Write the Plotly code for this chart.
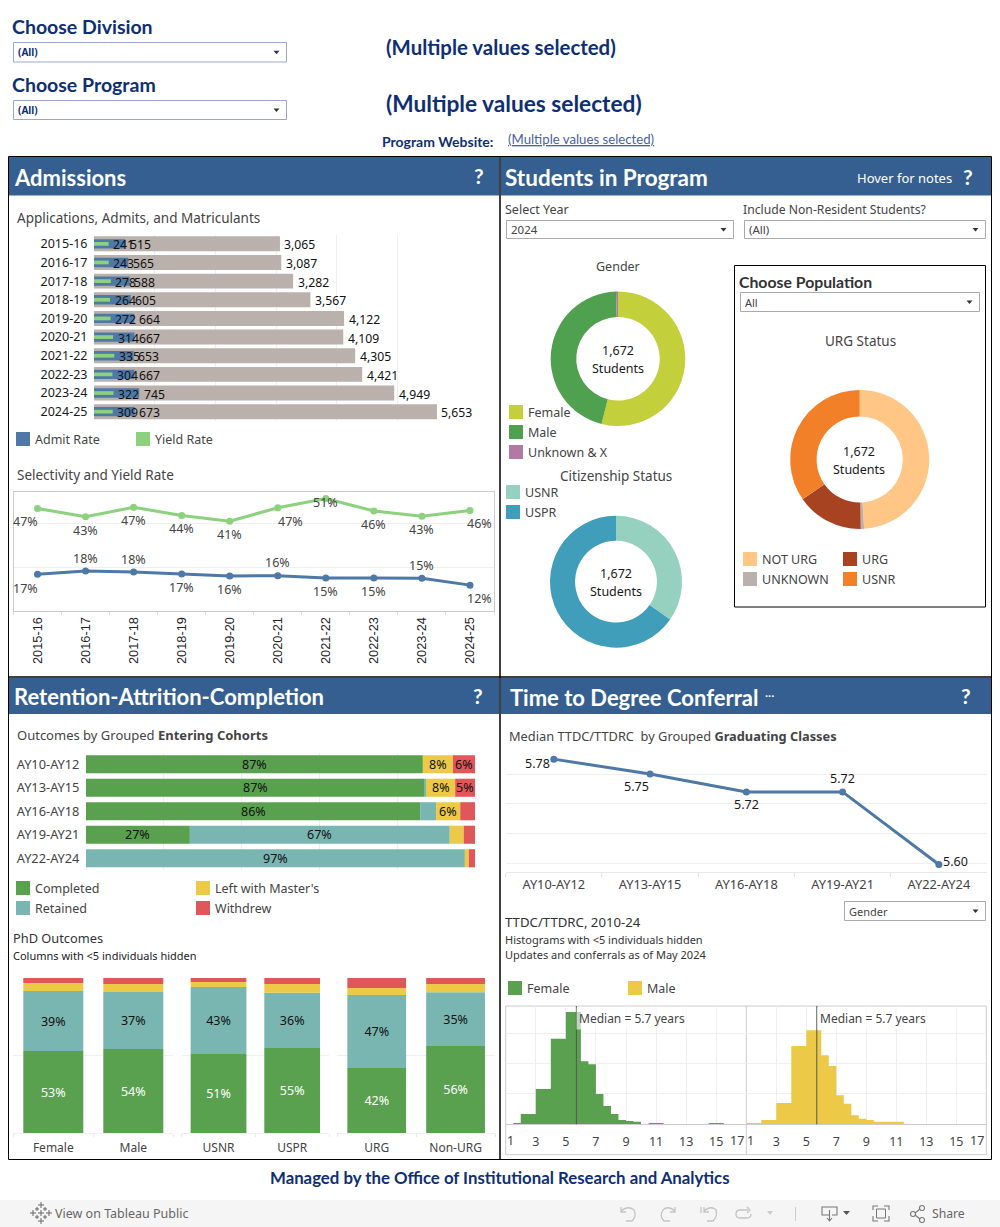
import numpy as np
import plotly.graph_objects as go

# ---------- data ----------
YEARS = ["2015-16", "2016-17", "2017-18", "2018-19", "2019-20", "2020-21", "2021-22", "2022-23", "2023-24", "2024-25"]
APPLICATIONS = [3065, 3087, 3282, 3567, 4122, 4109, 4305, 4421, 4949, 5653]
ADMITS = [515, 565, 588, 605, 664, 667, 653, 667, 745, 673]
MATRICULANTS = [241, 243, 278, 264, 272, 314, 335, 304, 322, 309]
YIELD_RATE = [46.8, 43.0, 47.3, 43.6, 41.0, 47.1, 51.3, 45.6, 43.2, 45.9]
ADMIT_RATE = [16.8, 18.3, 17.9, 17.0, 16.1, 16.2, 15.2, 15.1, 15.05, 11.9]

COHORTS = ["AY10-AY12", "AY13-AY15", "AY16-AY18", "AY19-AY21", "AY22-AY24"]
COMPLETED = [86.6, 86.9, 85.9, 26.7, 0.0]
RETAINED = [0.0, 0.5, 4.1, 66.8, 97.4]
LEFT_MASTERS = [7.7, 7.5, 6.2, 3.6, 1.0]
WITHDREW = [5.7, 5.1, 3.8, 2.9, 1.6]
COMPLETED_TXT = ["87%", "87%", "86%", "27%", ""]
RETAINED_TXT = ["", "", "", "67%", "97%"]
LEFT_TXT = ["8%", "8%", "6%", "", ""]
WITHDREW_TXT = ["6%", "5%", "", "", ""]

PHD_GROUPS = [["Female", "Male"], ["USNR", "USPR"], ["URG", "Non-URG"]]
PHD_COMPLETED = [[53.0, 54.3], [51.1, 54.9], [42.1, 56.2]]
PHD_RETAINED = [[38.6, 36.7], [43.1, 35.6], [47.0, 34.6]]
PHD_LEFT = [[5.2, 5.2], [3.2, 5.6], [4.5, 5.4]]
PHD_WITHDREW = [[3.2, 3.8], [2.6, 3.9], [6.4, 3.8]]

GENDER_LABELS = ["Female", "Male", "Unknown & X"]
GENDER_COUNTS = [902, 762, 8]
CITIZEN_LABELS = ["USNR", "USPR"]
CITIZEN_COUNTS = [580, 1092]
URG_LABELS = ["NOT URG", "UNKNOWN", "URG", "USNR"]
URG_COUNTS = [819, 13, 260, 580]

GRAD_CLASSES = COHORTS
MEDIAN_TTD = [5.775, 5.75, 5.72, 5.72, 5.598]
MEDIAN_TXT = ["5.78", "5.75", "5.72", "5.72", "5.60"]

BINS_F = [1.5, 2, 2.5, 3, 3.5, 4, 4.5, 5, 5.5, 6, 6.5, 7, 7.5, 8, 8.5, 9, 9.5, 10, 10.5, 11, 11.5, 14.5, 15, 15.5]
HIST_F = [0.2, 1.7, 1.7, 5.8, 5.8, 14.1, 14.1, 18.5, 18.5, 10.4, 9.9, 5.0, 3.0, 1.7, 0.7, 0.55, 0.4, 0.0, 0.2, 0.2, 0.0, 0.2, 0.2, 0.0]
BINS_M = [1, 1.5, 2, 2.5, 3, 3.5, 4, 4.5, 5, 5.5, 6, 6.5, 7, 7.5, 8, 8.5, 9, 9.5, 10, 10.5, 11, 11.5]
HIST_M = [0.2, 0.2, 0.7, 0.7, 3.5, 3.5, 12.9, 12.9, 15.5, 15.5, 11.4, 9.6, 4.8, 3.4, 1.5, 0.9, 0.7, 0.4, 0.4, 0.4, 0.4, 0.0]
MEDIAN_YEARS = 5.7

# ---------- style ----------
W, H = 1000, 1227
FONT = "Noto Sans"
HEAD = "Lato"
NAVY = "#0f2f74"
HEADER = "#365f91"
TXT = "#444444"
DARK = "#1a1a1a"
GRID = "#efefef"
BLUE, GREEN, GREY = "#4e79a7", "#8cd17d", "#bab0ac"
C_DONE, C_RET, C_LEFT, C_WD = "#59a14f", "#79b6b1", "#edc948", "#e15759"


def xd(a, b):
    return [a / W, b / W]


def yd(top, bot):
    return [1 - bot / H, 1 - top / H]


fig = go.Figure()
ann, shp = [], []


def text(x, y, s, size=12.5, color=TXT, anchor="left", family=FONT):
    ann.append(dict(x=x / W, y=1 - y / H, xref="paper", yref="paper", text=s, showarrow=False,
                    xanchor=anchor, yanchor="middle", font=dict(size=size, color=color, family=family),
                    borderpad=0, borderwidth=0))


def rect(x0, y0, x1, y1, fill=None, line=None, lw=1, layer="above"):
    shp.append(dict(type="rect", xref="paper", yref="paper", x0=x0 / W, x1=x1 / W,
                    y0=1 - y0 / H, y1=1 - y1 / H, layer=layer,
                    fillcolor=fill or "rgba(0,0,0,0)",
                    line=dict(color=line or "rgba(0,0,0,0)", width=lw if line else 0)))


def px_path(points, close=False, fill=None, line=None, lw=1):
    d = ""
    for p in points:
        if isinstance(p, str):
            d += " " + p + " "
        else:
            d += f"{p[0] / W:.5f},{1 - p[1] / H:.5f} "
    if close:
        d += "Z"
    shp.append(dict(type="path", xref="paper", yref="paper", path=d.strip(), layer="above",
                    fillcolor=fill or "rgba(0,0,0,0)",
                    line=dict(color=line or "rgba(0,0,0,0)", width=lw if line else 0)))


def dropdown(x0, y0, x1, y1, label, border="#aaaaaa", color=TXT, size=11.5, bold=False):
    rect(x0, y0, x1, y1, fill="white", line=border)
    text(x0 + 4, (y0 + y1) / 2, f"<b>{label}</b>" if bold else label, size=size, color=color)
    cx, cy = x1 - 10, (y0 + y1) / 2
    px_path(["M", (cx - 3, cy - 1.5), "L", (cx + 3, cy - 1.5), "L", (cx, cy + 2)], close=True, fill="#333333")


def swatch(x, y, label, color):
    rect(x, y - 7, x + 14, y + 7, fill=color)
    text(x + 19, y + 0.5, label, size=12.5, color=TXT)


def axis_base(**kw):
    d = dict(showgrid=False, zeroline=False, showline=False, fixedrange=True, ticks="",
             tickfont=dict(family=FONT, size=12.5, color=TXT))
    d.update(kw)
    return d


layout_axes = {}

# ---------- top controls ----------
text(12, 26.5, "<b>Choose Division</b>", 19.5, NAVY, family=HEAD)
dropdown(13.5, 42.5, 286.5, 62, "(All)", "#9aa8cf", NAVY, 10, True)
text(12, 84.5, "<b>Choose Program</b>", 19.5, NAVY, family=HEAD)
dropdown(13.5, 100.5, 286.5, 119.5, "(All)", "#9aa8cf", NAVY, 10, True)
text(386, 47, "<b>(Multiple values selected)</b>", 20.4, NAVY, family=HEAD)
text(386, 104, "<b>(Multiple values selected)</b>", 22.7, NAVY, family=HEAD)
text(382, 141, "<b>Program Website:</b>", 14, NAVY, family=HEAD)
text(508, 139, "<u>(Multiple values selected)</u>", 13.2, "#4a5fa0", family=HEAD)

# ---------- panels ----------
rect(8.5, 156.5, 991.5, 1159.5, line="#000000", layer="below")
for hx0, hx1, hy0, hy1 in [(9, 499, 157, 195.5), (501, 991, 157, 195.5), (9, 499, 678, 714), (501, 991, 678, 714)]:
    rect(hx0, hy0, hx1, hy1, fill=HEADER, layer="below")
shp.append(dict(type="line", xref="paper", yref="paper", x0=500 / W, x1=500 / W, y0=1 - 156.5 / H, y1=1 - 1159.5 / H,
                line=dict(color="black", width=1.5), layer="below"))
shp.append(dict(type="line", xref="paper", yref="paper", x0=8.5 / W, x1=991.5 / W, y0=1 - 677 / H, y1=1 - 677 / H,
                line=dict(color="black", width=1.5), layer="below"))
text(14, 177.5, "<b>Admissions</b>", 22, "white", family=HEAD)
text(479, 175, "<b>?</b>", 21, "white", "center", family=HEAD)
text(505, 177.5, "<b>Students in Program</b>", 22.5, "white", family=HEAD)
text(857, 178, "Hover for notes", 13, "white")
text(968, 177, "<b>?</b>", 21, "white", "center", family=HEAD)
text(14, 696.5, "<b>Retention-Attrition-Completion</b>", 22, "white", family=HEAD)
text(478, 695, "<b>?</b>", 21, "white", "center", family=HEAD)
text(510, 697.5, "<b>Time to Degree Conferral</b>", 22, "white", family=HEAD)
text(769, 696, "<b>···</b>", 11, "white", "center")
text(966, 695, "<b>?</b>", 21, "white", "center", family=HEAD)

# ---------- applications ----------
text(17, 217.5, "Applications, Admits, and Matriculants", 13.5)
for vals, col, wd in [(APPLICATIONS, GREY, 0.8), (ADMITS, BLUE, 0.5), (MATRICULANTS, GREEN, 0.2)]:
    fig.add_trace(go.Bar(y=YEARS, x=vals, orientation="h", marker=dict(color=col, line_width=0), width=wd,
                         xaxis="x", yaxis="y", showlegend=False, hoverinfo="skip"))
layout_axes["xaxis"] = axis_base(domain=xd(94, 458), range=[0, 6000], showgrid=True, gridcolor=GRID,
                                 tickvals=[0, 1000, 2000, 3000, 4000, 5000, 6000], showticklabels=False, anchor="y")
layout_axes["yaxis"] = axis_base(domain=yd(234.5, 421), type="category", categoryorder="array", categoryarray=YEARS,
                                 range=[9.5, -0.5], anchor="x", ticks="outside", ticklen=3,
                                 tickcolor="rgba(0,0,0,0)", tickfont=dict(family=FONT, size=12.5, color=DARK))
for vals in (MATRICULANTS, ADMITS, APPLICATIONS):
    for yr, v in zip(YEARS, vals):
        ann.append(dict(x=v, y=yr, xref="x", yref="y", text=f"{v:,}", showarrow=False, xanchor="left",
                        xshift=2.5, yshift=-1, font=dict(family=FONT, size=12.2, color="#111111")))
swatch(16, 439, "Admit Rate", BLUE)
swatch(136, 439, "Yield Rate", GREEN)

# ---------- selectivity ----------
text(17, 474.5, "Selectivity and Yield Rate", 13.5)
layout_axes["xaxis2"] = axis_base(domain=xd(13.5, 494), type="category", categoryorder="array", categoryarray=YEARS,
                                  range=[-0.5, 9.5], anchor="y2", tickson="boundaries", ticks="outside", ticklen=3,
                                  tickcolor="#dddddd", tickangle=-90, showline=True, mirror=True, linecolor="#cccccc",
                                  tickfont=dict(family="Liberation Sans", size=12.8, color="#222222"))
layout_axes["yaxis2"] = axis_base(domain=yd(491.7, 611), range=[0.14, 54.4], anchor="x2", showgrid=True, gridcolor=GRID,
                                  tickvals=[20, 40], showticklabels=False, showline=True, mirror=True,
                                  linecolor="#cccccc")
for vals, col in [(YIELD_RATE, GREEN), (ADMIT_RATE, BLUE)]:
    fig.add_trace(go.Scatter(x=YEARS, y=vals, mode="lines+markers", line=dict(color=col, width=3),
                             marker=dict(color=col, size=7), xaxis="x2", yaxis="y2", showlegend=False,
                             hoverinfo="skip", cliponaxis=False))
YIELD_SHIFT = [(-11.7, -13.5), (0, -13.5), (0, -13.5), (0, -13.5), (0, -13.5), (13, -13.5), (0, -3.7), (0, -13.5), (0, -13.5), (10, -13.5)]
ADMIT_SHIFT = [(-11.7, -13.7), (0, 12.7), (0, 12.7), (0, -13.7), (0, -13.7), (0, 12.7), (0, -13.7), (0, -13.7), (0, 12.7), (10, -13.7)]
for vals, shifts in [(YIELD_RATE, YIELD_SHIFT), (ADMIT_RATE, ADMIT_SHIFT)]:
    for yr, v, (dx, dy) in zip(YEARS, vals, shifts):
        ann.append(dict(x=yr, y=v, xref="x2", yref="y2", text=f"{round(v)}%", showarrow=False, xshift=dx, yshift=dy,
                        font=dict(family=FONT, size=12.5, color=TXT)))

# ---------- students ----------
text(505, 209.5, "Select Year", 12.5)
dropdown(506.5, 220.5, 733.5, 238.5, "2024")
text(743, 209.5, "Include Non-Resident Students?", 12.2)
dropdown(744.5, 220.5, 985.5, 238.5, "(All)")
text(618, 266, "Gender", 12.5, anchor="center")
rect(734.5, 265.5, 985.5, 607, line="#000000", layer="below")
text(739, 281.5, "<b>Choose Population</b>", 15.8, "#333333", family=HEAD)
dropdown(740.5, 292.5, 979.5, 311.5, "All", size=11)
text(860, 341, "URG Status", 13.5, anchor="center")
text(616, 475.5, "Citizenship Status", 13.5, anchor="center")

for labels, counts, cols, cx, cy, R in [
    (GENDER_LABELS, GENDER_COUNTS, ["#c3cf3b", "#4fa04f", "#b279a2"], 618, 358.8, 67.3),
    (CITIZEN_LABELS, CITIZEN_COUNTS, ["#96d1c0", "#419ebb"], 616, 581.7, 66),
    (URG_LABELS, URG_COUNTS, ["#ffc685", "#bab0ac", "#a84322", "#f28028"], 859.7, 459.5, 69.5),
]:
    fig.add_trace(go.Pie(labels=labels, values=counts, hole=0.62, sort=False, direction="clockwise", rotation=0,
                         marker=dict(colors=cols, line=dict(width=0)), textinfo="none", showlegend=False,
                         hoverinfo="skip", domain=dict(x=xd(cx - R, cx + R), y=yd(cy - R, cy + R))))
    text(cx - 0.5, cy - 8.2, f"{sum(counts):,}", 12.5, DARK, "center")
    text(cx - 0.5, cy + 10, "Students", 12.5, DARK, "center")

swatch(509, 412, "Female", "#c3cf3b")
swatch(509, 432, "Male", "#4fa04f")
swatch(509, 452, "Unknown &amp; X", "#b279a2")
swatch(506, 492, "USNR", "#96d1c0")
swatch(506, 512, "USPR", "#419ebb")
swatch(743, 559, "NOT URG", "#ffc685")
swatch(743, 579, "UNKNOWN", "#bab0ac")
swatch(843, 559, "URG", "#a84322")
swatch(843, 579, "USNR", "#f28028")

# ---------- outcomes ----------
text(17, 735, "Outcomes by Grouped <b>Entering Cohorts</b>", 13)
layout_axes["xaxis3"] = axis_base(domain=xd(86, 475), range=[0, 100], anchor="y3", showgrid=True, gridcolor=GRID,
                                  tickvals=[0, 20, 40, 60, 80, 100], showticklabels=False)
layout_axes["yaxis3"] = axis_base(domain=yd(752.5, 870), type="category", categoryorder="array", categoryarray=COHORTS,
                                  range=[4.5, -0.5], anchor="x3", ticks="outside", ticklen=3,
                                  tickcolor="rgba(0,0,0,0)", tickfont=dict(family=FONT, size=12.8, color=TXT))
base = np.zeros(5)
for vals, col, txt in [(COMPLETED, C_DONE, COMPLETED_TXT), (RETAINED, C_RET, RETAINED_TXT),
                       (LEFT_MASTERS, C_LEFT, LEFT_TXT), (WITHDREW, C_WD, WITHDREW_TXT)]:
    fig.add_trace(go.Bar(y=COHORTS, x=vals, base=base.tolist(), orientation="h", width=0.77,
                         marker=dict(color=col, line_width=0), xaxis="x3", yaxis="y3", showlegend=False,
                         hoverinfo="skip"))
    for c, b, v, t in zip(COHORTS, base, vals, txt):
        if t:
            ann.append(dict(x=float(b + v / 2), y=c, xref="x3", yref="y3", text=t, showarrow=False,
                            font=dict(family=FONT, size=12.5, color="#111111")))
    base = base + np.array(vals)
swatch(16, 888, "Completed", C_DONE)
swatch(16, 908, "Retained", C_RET)
swatch(196, 888, "Left with Master's", C_LEFT)
swatch(196, 908, "Withdrew", C_WD)

# ---------- PhD outcomes ----------
text(13, 938, "PhD Outcomes", 12.8, "#333333")
text(13, 955, "Columns with &lt;5 individuals hidden", 11, "#222222")
PANES = [(13.3, 173.3, 0.75), (181.7, 329, 0.757), (337.3, 495, 0.745)]
for i, (names, done, ret, left, wd, (p0, p1, bw)) in enumerate(
        zip(PHD_GROUPS, PHD_COMPLETED, PHD_RETAINED, PHD_LEFT, PHD_WITHDREW, PANES)):
    n = 4 + i
    layout_axes[f"xaxis{n}"] = axis_base(domain=xd(p0, p1), type="category", categoryorder="array", categoryarray=names,
                                         range=[-0.5, 1.5], anchor=f"y{n}", tickson="boundaries", ticks="outside",
                                         ticklen=3, ticklabelstandoff=3, tickcolor="#e8e8e8", showline=True,
                                         linecolor=GRID, tickfont=dict(family=FONT, size=12, color=TXT))
    layout_axes[f"yaxis{n}"] = axis_base(domain=yd(978, 1133.3), range=[0, 100], anchor=f"x{n}", showgrid=True,
                                         gridcolor=GRID, tickvals=[0, 50, 100], showticklabels=False)
    base = np.zeros(2)
    for vals, col, tcol, lab in [(done, C_DONE, "white", True), (ret, C_RET, "#111111", True),
                                 (left, C_LEFT, "#111111", False), (wd, C_WD, "#111111", False)]:
        fig.add_trace(go.Bar(x=names, y=vals, base=base.tolist(), width=bw, marker=dict(color=col, line_width=0),
                             text=[f"{round(v)}%" for v in vals] if lab else None,
                             textposition="inside" if lab else "none", textangle=0, insidetextanchor="middle",
                             insidetextfont=dict(family=FONT, size=12.5, color=tcol),
                             xaxis=f"x{n}", yaxis=f"y{n}", showlegend=False, hoverinfo="skip"))
        base = base + np.array(vals)

# ---------- median TTD ----------
text(509, 735.5, "Median TTDC/TTDRC&nbsp;&nbsp;by Grouped <b>Graduating Classes</b>", 12.8)
layout_axes["xaxis7"] = axis_base(domain=xd(505.7, 987), type="category", categoryorder="array",
                                  categoryarray=GRAD_CLASSES, range=[-0.5, 4.5], anchor="y7", tickson="boundaries",
                                  ticks="outside", ticklen=4, ticklabelstandoff=1, tickcolor="#e4e4e4", showline=True,
                                  linecolor="#e8e8e8", tickfont=dict(family=FONT, size=12.8, color=TXT))
layout_axes["yaxis7"] = axis_base(domain=yd(751.7, 871.7), range=[5.586, 5.7875], anchor="x7", showgrid=True,
                                  gridcolor=GRID, tickvals=[5.60, 5.65, 5.70, 5.75], showticklabels=False)
fig.add_trace(go.Scatter(x=GRAD_CLASSES, y=MEDIAN_TTD, mode="lines+markers", line=dict(color=BLUE, width=3),
                         marker=dict(color=BLUE, size=7), xaxis="x7", yaxis="y7", showlegend=False,
                         hoverinfo="skip", cliponaxis=False))
MEDIAN_SHIFT = [(-16.7, -4.7), (-13.7, -12.7), (0, -13), (0, 13), (16.7, 2.7)]
for c, v, t, (dx, dy) in zip(GRAD_CLASSES, MEDIAN_TTD, MEDIAN_TXT, MEDIAN_SHIFT):
    ann.append(dict(x=c, y=v, xref="x7", yref="y7", text=t, showarrow=False, xshift=dx, yshift=dy,
                    font=dict(family=FONT, size=12.5, color=DARK)))
dropdown(844.5, 901.5, 985.5, 920.5, "Gender", size=11)
text(505, 922, "TTDC/TTDRC, 2010-24", 13.2, "#333333")
text(505, 939, "Histograms with &lt;5 individuals hidden", 11, "#333333")
text(505, 954, "Updates and conferrals as of May 2024", 11, "#333333")
swatch(508, 988, "Female", C_DONE)
swatch(628, 988, "Male", C_LEFT)

# ---------- histograms ----------
for n, (x0, x1, bins, vals, col) in zip((8, 9), [(505.7, 746.3, BINS_F, HIST_F, C_DONE),
                                                 (746.3, 986.3, BINS_M, HIST_M, C_LEFT)]):
    layout_axes[f"xaxis{n}"] = axis_base(domain=xd(x0, x1), range=[1, 17], anchor=f"y{n}", showgrid=True, gridcolor=GRID,
                                         tickvals=[3, 5, 7, 9, 11, 13, 15], ticks="outside", ticklen=3,
                                         ticklabelstandoff=3, tickcolor="rgba(0,0,0,0)", showline=True,
                                         linecolor="#cccccc", tickfont=dict(family=FONT, size=12.5, color=TXT))
    layout_axes[f"yaxis{n}"] = axis_base(domain=yd(1006, 1124.3), range=[0, 19.5], anchor=f"x{n}", showgrid=True,
                                         gridcolor=GRID, tickvals=[5, 10, 15], showticklabels=False)
    fig.add_trace(go.Scatter(x=bins, y=vals, mode="lines", line=dict(shape="hv", width=0, color=col), fill="tozeroy",
                             fillcolor=col, xaxis=f"x{n}", yaxis=f"y{n}", showlegend=False, hoverinfo="skip"))
    ann.append(dict(x=MEDIAN_YEARS, y=1, xref=f"x{n}", yref=f"y{n} domain", text="Median = 5.7 years", showarrow=False,
                    xanchor="left", yanchor="top", xshift=0, yshift=-1, bgcolor="rgba(255,255,255,0.6)", borderpad=2,
                    font=dict(family=FONT, size=12, color=TXT)))
    shp.append(dict(type="line", xref=f"x{n}", yref=f"y{n} domain", x0=MEDIAN_YEARS, x1=MEDIAN_YEARS, y0=0, y1=1,
                    line=dict(color="#555555", width=1), layer="above"))
    ann.append(dict(x=1, y=0, xref=f"x{n}", yref=f"y{n} domain", text="1", showarrow=False, xshift=4.5, yshift=-16.5,
                    yanchor="middle", font=dict(family=FONT, size=12.5, color=TXT)))
    ann.append(dict(x=17, y=0, xref=f"x{n}", yref=f"y{n} domain", text="17", showarrow=False, xshift=-9.5, yshift=-16.5,
                    yanchor="middle", font=dict(family=FONT, size=12.5, color=TXT)))
rect(505.7, 1006, 986.3, 1154.7, line="#cccccc", layer="below")
shp.append(dict(type="line", xref="paper", yref="paper", x0=746.3 / W, x1=746.3 / W, y0=1 - 1006 / H, y1=1 - 1154.7 / H,
                line=dict(color="#cccccc", width=1), layer="below"))

# ---------- footer and toolbar ----------
text(500, 1177, "<b>Managed by the Office of Institutional Research and Analytics</b>", 16.8, NAVY, "center", family=HEAD)
rect(0, 1200, 1000, 1227, fill="#f5f5f5", layer="below")
text(55, 1213.5, "View on Tableau Public", 12.5, "#666666")
text(932, 1213.5, "Share", 12.2, "#666666")
for dx, dy, s in [(0, -8, 3), (0, 8, 3), (-8, 0, 3), (8, 0, 3), (-4, -4, 2), (4, -4, 2), (-4, 4, 2), (4, 4, 2), (0, 0, 3)]:
    px_path(["M", (41 + dx - s, 1213 + dy), "L", (41 + dx + s, 1213 + dy), "M", (41 + dx, 1213 + dy - s), "L", (41 + dx, 1213 + dy + s)], line="#666666")
ICON = "#c4c4c4"
px_path(["M", (621, 1207), "L", (621, 1212), "L", (626, 1212), "M", (621, 1211), "Q", (628, 1205), (634, 1210), "Q", (637, 1216), (632, 1221), "L", (626, 1221)], line=ICON, lw=1.3)
px_path(["M", (675, 1207), "L", (675, 1212), "L", (670, 1212), "M", (675, 1211), "Q", (668, 1205), (663, 1210), "Q", (659, 1216), (664, 1221), "L", (670, 1221)], line=ICON, lw=1.3)
px_path(["M", (701, 1207), "L", (701, 1213), "M", (704, 1207), "L", (704, 1212), "L", (709, 1212), "M", (704, 1211), "Q", (711, 1205), (716, 1210), "Q", (718, 1216), (713, 1221), "L", (707, 1221)], line=ICON, lw=1.3)
px_path(["M", (748, 1210), "L", (740, 1210), "Q", (736, 1210), (736, 1214), "Q", (736, 1218), (740, 1218), "L", (747, 1218), "Q", (751, 1218), (751, 1214), "M", (747, 1207), "L", (750, 1210), "L", (747, 1213)], line=ICON, lw=1.3)
px_path(["M", (767, 1211), "L", (773, 1211), "L", (770, 1215)], close=True, fill="#cccccc")
px_path(["M", (795.5, 1207), "L", (795.5, 1221)], line="#cccccc")
DK = "#777777"
px_path(["M", (829, 1215), "L", (822, 1215), "L", (822, 1207), "L", (837, 1207), "L", (837, 1215), "L", (832, 1215), "M", (829.5, 1210), "L", (829.5, 1221), "M", (827, 1218), "L", (829.5, 1221), "L", (832, 1218)], line=DK, lw=1.1)
px_path(["M", (843, 1211), "L", (850, 1211), "L", (846.5, 1215)], close=True, fill="#555555")
px_path(["M", (873, 1210), "L", (873, 1206), "L", (878, 1206), "M", (884, 1206), "L", (889, 1206), "L", (889, 1210), "M", (889, 1216), "L", (889, 1221), "L", (884, 1221), "M", (878, 1221), "L", (873, 1221), "L", (873, 1216)], line=DK, lw=1.1)
rect(876.5, 1209, 885.5, 1218, line=DK)
for cx, cy in [(922, 1208), (913, 1214), (922, 1220)]:
    shp.append(dict(type="circle", xref="paper", yref="paper", x0=(cx - 2.5) / W, x1=(cx + 2.5) / W,
                    y0=1 - (cy + 2.5) / H, y1=1 - (cy - 2.5) / H, line=dict(color=DK, width=1.1), layer="above"))
px_path(["M", (915, 1213), "L", (920, 1209), "M", (915, 1215), "L", (920, 1219)], line=DK, lw=1.1)

fig.update_layout(width=W, height=H, margin=dict(l=0, r=0, t=0, b=0, pad=0), autosize=False,
                  paper_bgcolor="white", plot_bgcolor="rgba(0,0,0,0)", barmode="overlay", showlegend=False,
                  font=dict(family=FONT), annotations=ann, shapes=shp, **layout_axes)

fig.write_html("out.html", config={"displayModeBar": False, "responsive": False},
               post_script="document.body.style.margin='0';document.documentElement.style.overflow='hidden';")
